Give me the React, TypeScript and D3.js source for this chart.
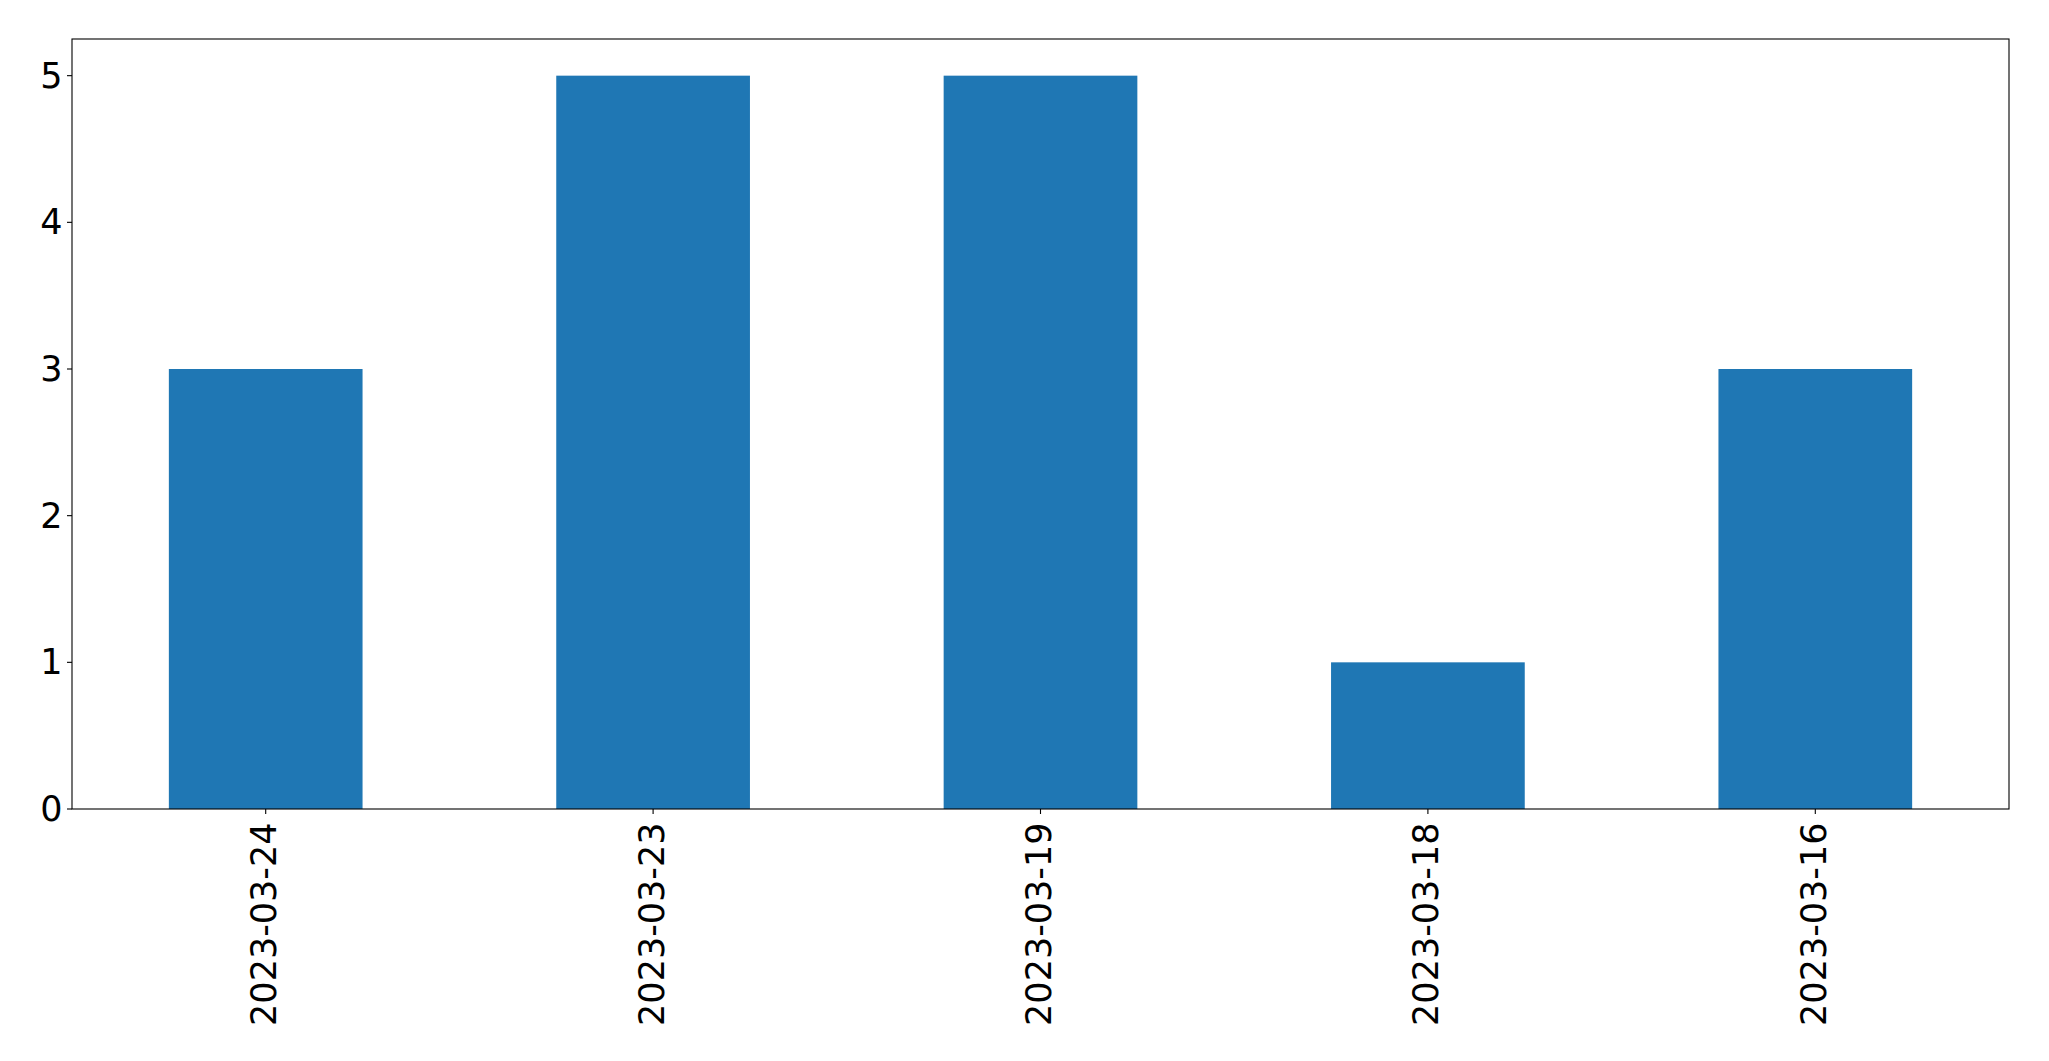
import React from "react";
import * as d3 from "d3";

const categories = ["2023-03-24", "2023-03-23", "2023-03-19", "2023-03-18", "2023-03-16"];
const values = [3, 5, 5, 1, 3];
const yTicks = [0, 1, 2, 3, 4, 5];

export default function App() {
  const W = 2049, H = 1061;
  const left = 72, right = 2009, top = 39, bottom = 809;
  const x = d3.scaleLinear().domain([-0.5, categories.length - 0.5]).range([left, right]);
  const y = d3.scaleLinear().domain([0, 5.25]).range([bottom, top]);
  const fs = 35;
  const font = "DejaVu Sans";
  return (
    <svg width={W} height={H} style={{ position: "absolute", left: 0, top: 0, background: "#fff" }}>
      <rect x={0} y={0} width={W} height={H} fill="#fff" />
      {values.map((v, i) => (
        <rect key={i} x={x(i - 0.25)} y={y(v)} width={x(i + 0.25) - x(i - 0.25)} height={y(0) - y(v)} fill="#1f77b4" />
      ))}
      <rect x={left} y={top} width={right - left} height={bottom - top} fill="none" stroke="#000" strokeWidth={1.1} />
      {yTicks.map((t) => (
        <g key={t}>
          <line x1={left - 5} x2={left} y1={y(t)} y2={y(t)} stroke="#000" strokeWidth={1.1} />
          <text x={left - 9.5} y={y(t)} textAnchor="end" dominantBaseline="central" fontFamily={font} fontSize={fs} fill="#000">{t}</text>
        </g>
      ))}
      {categories.map((c, i) => (
        <g key={c}>
          <line x1={x(i)} x2={x(i)} y1={bottom} y2={bottom + 5} stroke="#000" strokeWidth={1.1} />
          <text transform={`translate(${x(i) - 1.5},${bottom + 13.5}) rotate(-90)`} textAnchor="end" dominantBaseline="central" fontFamily={font} fontSize={fs} fill="#000">{c}</text>
        </g>
      ))}
    </svg>
  );
}
